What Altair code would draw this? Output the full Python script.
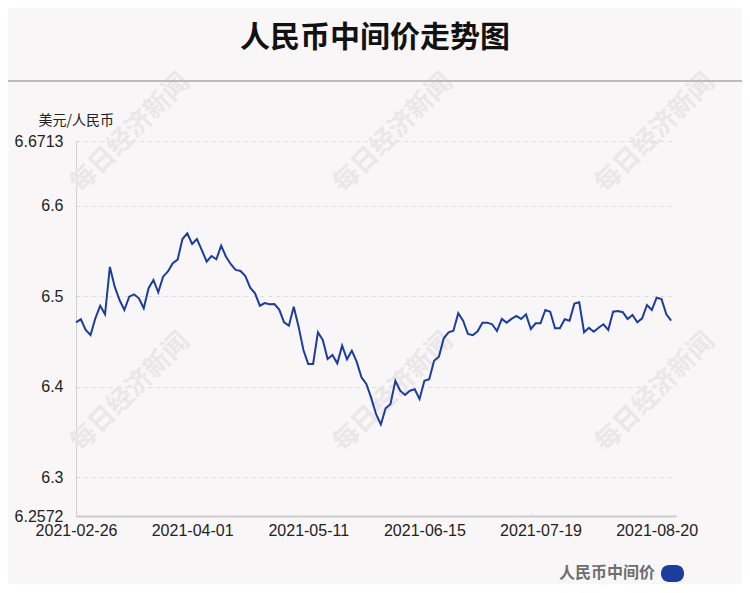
import altair as alt
import pandas as pd

# USD/CNY central parity, one value per trading day
values = [
    6.4711, 6.4744, 6.4626, 6.4571, 6.4755, 6.4894, 6.4799, 6.5322, 6.5104, 6.4957,
    6.4847, 6.4994, 6.5020, 6.4976, 6.4866, 6.5087, 6.5178, 6.5042, 6.5215, 6.5272,
    6.5363, 6.5403, 6.5631, 6.5694, 6.5576, 6.5631, 6.5509, 6.5380, 6.5443, 6.5407,
    6.5557, 6.5435, 6.5352, 6.5289, 6.5278, 6.5222, 6.5093, 6.5031, 6.4894, 6.4924,
    6.4910, 6.4913, 6.4852, 6.4711, 6.4674, 6.4883, 6.4663, 6.4405, 6.4251, 6.4251,
    6.4601, 6.4516, 6.4306, 6.4350, 6.4258, 6.4453, 6.4303, 6.4398, 6.4276, 6.4104,
    6.4030, 6.3879, 6.3699, 6.3583, 6.3761, 6.3809, 6.4066, 6.3956, 6.3908, 6.3956,
    6.3971, 6.3864, 6.4066, 6.4082, 6.4287, 6.4331, 6.4534, 6.4601, 6.4618, 6.4811,
    6.4729, 6.4582, 6.4568, 6.4612, 6.4707, 6.4707, 6.4689, 6.4615, 6.4748, 6.4707,
    6.4748, 6.4781, 6.4748, 6.4799, 6.4637, 6.4700, 6.4700, 6.4847, 6.4828, 6.4645,
    6.4645, 6.4744, 6.4728, 6.4918, 6.4932, 6.4601, 6.4651, 6.4607, 6.4651, 6.4689,
    6.4626, 6.4828, 6.4836, 6.4822, 6.4748, 6.4792, 6.4711, 6.4755, 6.4902, 6.4847,
    6.4983, 6.4968, 6.4799, 6.4729,
]
tick_index = [0, 24, 48, 72, 96, 120]
tick_labels = ["2021-02-26", "2021-04-01", "2021-05-11", "2021-06-15", "2021-07-19", "2021-08-20"]
y_ticks = [6.2572, 6.3, 6.4, 6.5, 6.6, 6.6713]
y_min, y_max = 6.2572, 6.6713
x_slots = 124

title_text = "人民币中间价走势图"
y_title = "美元/人民币"
series_name = "人民币中间价"
watermark = "每日经济新闻"

font = "Arial, 'Liberation Sans', 'Noto Sans CJK SC', sans-serif"
cjk = "'Noto Sans CJK SC', Arial, sans-serif"
blue = "#1a3d9e"

df = pd.DataFrame({"i": list(range(len(values))), "v": values})

label_map = "{" + ",".join(f"'{i}':'{l}'" for i, l in zip(tick_index, tick_labels)) + "}"
x_label_expr = f"{label_map}[''+datum.value]"
y_label_expr = (
    f"(abs(datum.value-{y_max})<0.00001 || abs(datum.value-{y_min})<0.00001)"
    " ? format(datum.value, '.4f') : format(datum.value, '.1f')"
)

line = alt.Chart(df).mark_line(color=blue, strokeWidth=2).encode(
    x=alt.X(
        "i:Q",
        scale=alt.Scale(domain=[0, x_slots], nice=False, zero=False),
        axis=alt.Axis(
            values=tick_index, labelExpr=x_label_expr, title=None, grid=False,
            ticks=False, domainColor="#cccccc", domainWidth=2, labelFontSize=16,
            labelColor="#222222", labelPadding=6, labelFont=font, labelFlush=False,
            labelOverlap=False,
        ),
    ),
    y=alt.Y(
        "v:Q",
        scale=alt.Scale(domain=[y_min, y_max], nice=False, zero=False),
        axis=alt.Axis(
            values=y_ticks, labelExpr=y_label_expr, title=y_title, titleAngle=0,
            titleX=-38, titleY=-21, titleAlign="left", titleBaseline="middle",
            titleFontSize=14, titleFontWeight="normal", titleColor="#222222",
            titleFont=cjk, grid=True, gridDash=[4, 4], gridColor="#dcdcdc",
            ticks=False, domainColor="#d0d0d0", labelFontSize=16,
            labelColor="#222222", labelPadding=13, labelFont=font,
            labelFlush=False, labelOverlap=False,
        ),
    ),
)

blank = pd.DataFrame({"k": [0]})

wm_layers = []
for wx, wy in [(54, -8), (317, -8), (579, -8), (54, 251), (317, 251), (579, 251)]:
    wm_layers.append(
        alt.Chart(blank).mark_text(
            angle=315, fontSize=26, fontWeight="bold", color="#ebe6e8",
            font=cjk, align="center", baseline="middle",
        ).encode(x=alt.value(wx), y=alt.value(wy), text=alt.value(watermark))
    )

title_layer = alt.Chart(blank).mark_text(
    fontSize=30, fontWeight="bold", color="#111111", font=cjk,
    align="center", baseline="middle",
).encode(x=alt.value(299), y=alt.value(-103), text=alt.value(title_text))

sep = alt.Chart(blank).mark_rule(color="#bbbbbb", strokeWidth=2).encode(
    x=alt.value(-76), x2=alt.value(680), y=alt.value(-60)
)

legend_text = alt.Chart(blank).mark_text(
    fontSize=16, fontWeight="bold", color="#6e6e6e", font=cjk,
    align="right", baseline="middle",
).encode(x=alt.value(579), y=alt.value(432), text=alt.value(series_name))

legend_rect = alt.Chart(blank).mark_rect(color=blue, cornerRadius=8).encode(
    x=alt.value(585), x2=alt.value(608), y=alt.value(424), y2=alt.value(441)
)

chart = alt.layer(
    *wm_layers, title_layer, sep, line, legend_text, legend_rect
).properties(
    width=600,
    height=375,
    padding={"left": 68, "top": 133, "right": 66, "bottom": 68},
    autosize=alt.AutoSizeParams(type="none"),
    background="#f9f6f7",
).configure_view(stroke=None)

chart.save("out.html", embed_options={"renderer": "svg", "actions": False})
